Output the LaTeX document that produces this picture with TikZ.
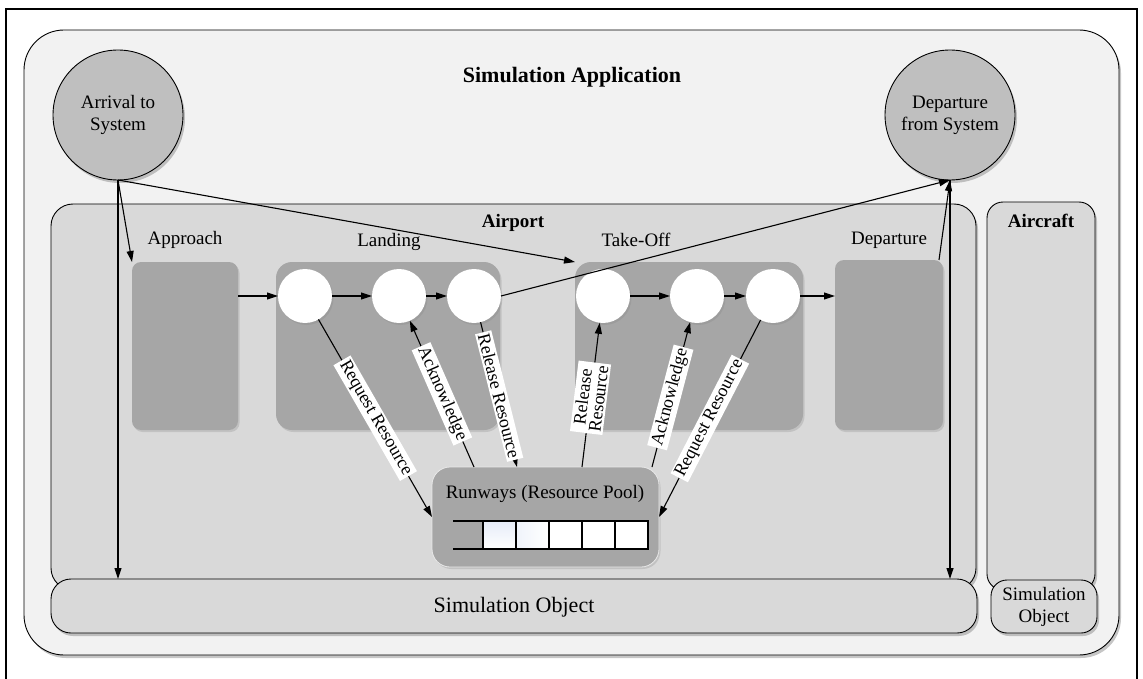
\documentclass[tikz,border=0pt]{standalone}
\usepackage{fontspec}
\setmainfont{Liberation Serif}
\usetikzlibrary{shadows,arrows.meta,fit}
\definecolor{appbg}{HTML}{F2F2F2}
\definecolor{midbg}{HTML}{D9D9D9}
\definecolor{darkbox}{HTML}{A6A6A6}
\definecolor{circ}{HTML}{BFBFBF}
\definecolor{cellblue}{HTML}{E6ECF8}
\begin{document}
\begin{tikzpicture}[x=1pt,y=-1pt,
  every node/.style={font=\fontsize{19}{22}\selectfont, inner sep=0pt, outer sep=0pt},
  shd/.style={drop shadow={opacity=0.45,shadow xshift=2pt,shadow yshift=-3pt}},
  softshd/.style={drop shadow={opacity=0.25,shadow xshift=1.5pt,shadow yshift=-2pt}},
  region/.style={draw=black, line width=0.9pt, shd},
  inbox/.style={fill=darkbox, rounded corners=9pt, softshd},
  bigcirc/.style={circle, draw=black, line width=0.9pt, fill=circ, minimum size=130pt, shd, align=center},
  wcirc/.style={circle, fill=white, minimum size=54pt, softshd},
  cell/.style={draw=black, line width=1.3pt, minimum width=33pt, minimum height=28pt},
  arr/.style={-{Triangle[length=11pt,width=7pt]}, line width=1.1pt},
  lab/.style={fill=white, sloped, inner sep=2pt, font=\fontsize{18}{19}\selectfont, align=center},
  ttl/.style={font=\fontsize{22}{26}\selectfont\bfseries},
  btl/.style={font=\fontsize{19}{22}\selectfont\bfseries}
]
\useasboundingbox (0,0) rectangle (1143,679);
% outer frame
\node[draw=black, line width=2pt, fit={(6,9) (1137,720)}] (frame) {};
% simulation application
\node[region, fill=appbg, rounded corners=40pt, fit={(24,30) (1119,655)}] (app) {};
\node[ttl] (apptitle) at (572,77) {Simulation Application};
% airport and aircraft
\node[region, fill=midbg, rounded corners=22pt, fit={(51,204) (976,590)}] (airport) {};
\node[region, fill=midbg, rounded corners=16pt, fit={(987,202) (1095,590)}] (aircraft) {};
\node[region, fill=midbg, rounded corners=20pt, fit={(51,579) (977,633)}] (simobj) {};
\node[region, fill=midbg, rounded corners=16pt, fit={(991,580) (1097,633)}] (simobjb) {};
\node (simobjlab) at (514,607) {\fontsize{22}{26}\selectfont Simulation Object};
\node[align=center] (simobjblab) at (1044,607) {Simulation\\Object};
\node[btl] (airportlab) at (513,223) {Airport};
\node[btl] (aircraftlab) at (1041,221) {Aircraft};
% system circles
\node[bigcirc] (arr) at (118,115) {Arrival to\\System};
\node[bigcirc] (dep) at (950,115) {Departure\\from System};
% phases
\node[inbox, fit={(132,262) (238,430)}] (approach) {};
\node[inbox, rounded corners=16pt, fit={(276,262) (500,430)}] (landing) {};
\node[inbox, rounded corners=16pt, fit={(575,262) (803,430)}] (takeoff) {};
\node[inbox, fit={(835,260) (943,430)}] (depbox) {};
\node (approachlab) at (185,240) {Approach};
\node (landinglab) at (389,242) {Landing};
\node (takeofflab) at (636,240) {Take-Off};
\node (departurelab) at (889,240) {Departure};
% circles
\node[wcirc] (L1) at (305,296) {};
\node[wcirc] (L2) at (399,296) {};
\node[wcirc] (L3) at (474,296) {};
\node[wcirc] (T1) at (603,296) {};
\node[wcirc] (T2) at (697,296) {};
\node[wcirc] (T3) at (773,296) {};
% runways
\node[inbox, rounded corners=18pt, draw=white!75!darkbox, line width=0.8pt, fit={(432,467) (659,567)}] (runways) {};
\node (runwayslab) at (545,494) {Runways (Resource Pool)};
\begin{scope}[drop shadow={opacity=0.35,shadow xshift=2pt,shadow yshift=-2pt}]
\end{scope}
\node[cell, left color=cellblue, right color=white, shading angle=0] (q1) at (499.5,535) {};
\node[cell, left color=white!40!cellblue, right color=white] (q2) at (532.5,535) {};
\node[cell, fill=white] (q3) at (565.5,535) {};
\node[cell, fill=white] (q4) at (598.5,535) {};
\node[cell, fill=white] (q5) at (631.5,535) {};
\draw[line width=1.3pt] (q1.north west) -- ++(-30,0);
\draw[line width=1.3pt] (q1.south west) -- ++(-30,0);
% runway connection points
\coordinate (rwAckL) at (474,467);
\coordinate (rwRelL) at (517,467);
\coordinate (rwRelT) at (582,467);
\coordinate (rwAckT) at (652,467);
% flow arrows
\draw[arr] (arr.south) -- (approach.north west);
\draw[arr] (arr.south) -- (arr.south |- simobj.north);
\draw[arr] (arr.south) -- (takeoff.north west);
\draw[arr] (approach.east |- L1) -- (L1);
\draw[arr] (L1) -- (L2);
\draw[arr] (L2) -- (L3);
\draw[arr] (L3.east) -- (dep.south);
\draw[arr] (T1) -- (T2);
\draw[arr] (T2) -- (T3);
\draw[arr] (T3) -- (depbox.west |- T3);
\draw[arr] ([xshift=-4pt]depbox.north east) -- (dep.south);
\draw[arr] (dep.south) -- (dep.south |- simobj.north);
% resource arrows
\draw[arr] (L1) -- node[lab, pos=0.5] {Request Resource} (runways.west);
\draw[arr] (rwAckL) -- node[lab, pos=0.5] {Acknowledge} (L2);
\draw[arr] (L3) -- node[lab, pos=0.51] {Release Resource} (rwRelL);
\draw[arr] (rwRelT) -- node[lab, pos=0.48] {Release\\[-3pt]Resource} (T1);
\draw[arr] (rwAckT) -- node[lab, pos=0.48] {Acknowledge} (T2);
\draw[arr] (T3) -- node[lab, pos=0.5] {Request Resource} (runways.east);
\end{tikzpicture}
\end{document}
